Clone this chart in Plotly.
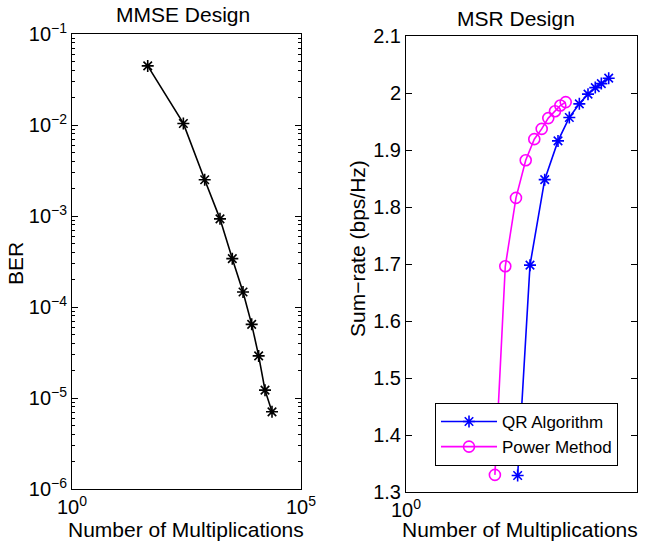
import plotly.graph_objects as go

# MMSE design: BER versus number of multiplications
mmse_mults = [45, 270, 789, 1703, 3162, 5420, 8380, 11900, 16370, 23270]
mmse_ber = [0.0446, 0.0104, 0.0025, 9.3e-4, 3.4e-4, 1.46e-4, 6.45e-5, 2.9e-5, 1.22e-5, 7.05e-6]

# MSR design: sum-rate versus number of multiplications
qr_mults = [261, 483, 1005, 1950, 3428, 5650, 8700, 12500, 16900, 24400]
qr_rate = [1.329, 1.698, 1.848, 1.916, 1.957, 1.981, 1.998, 2.0095, 2.0165, 2.026]
pm_mults = [84, 141, 240, 390, 598, 865, 1202, 1679, 2188, 2864]
pm_rate = [1.330, 1.696, 1.816, 1.882, 1.919, 1.937, 1.956, 1.968, 1.978, 1.984]

ber_tickvals = [1e-1, 1e-2, 1e-3, 1e-4, 1e-5, 1e-6]
ber_ticktext = ["10<sup>\u22121</sup>", "10<sup>\u22122</sup>", "10<sup>\u22123</sup>",
                "10<sup>\u22124</sup>", "10<sup>\u22125</sup>", "10<sup>\u22126</sup>"]
mult_tickvals = [1, 1e5]
mult_ticktext = ["10<sup>0</sup>", "10<sup>5</sup>"]

# minor log ticks (2..9 within each decade of the BER axis)
ber_minor = [m * 10.0 ** e for e in range(-6, -1) for m in range(2, 10)]

W, H = 652, 548
FONT = "Liberation Sans, Arial, Helvetica, sans-serif"


def px(x):
    return x / W


def py(y):
    return 1 - y / H


fig = go.Figure()

fig.add_trace(go.Scatter(
    x=mmse_mults, y=mmse_ber, mode="lines+markers", showlegend=False,
    line=dict(color="black", width=1.6),
    marker=dict(symbol="asterisk-open", size=10, color="black",
                line=dict(color="black", width=1.6)),
    xaxis="x", yaxis="y",
))
fig.add_trace(go.Scatter(
    x=qr_mults, y=qr_rate, mode="lines+markers", name="QR Algorithm",
    line=dict(color="#0000FF", width=1.6),
    marker=dict(symbol="asterisk-open", size=10, color="#0000FF",
                line=dict(color="#0000FF", width=1.6)),
    xaxis="x2", yaxis="y2",
))
fig.add_trace(go.Scatter(
    x=pm_mults, y=pm_rate, mode="lines+markers", name="Power Method",
    line=dict(color="#FF00FF", width=1.6),
    marker=dict(symbol="circle-open", size=11, color="#FF00FF",
                line=dict(color="#FF00FF", width=1.6)),
    xaxis="x2", yaxis="y2",
))

axis_common = dict(
    showline=True, linecolor="black", linewidth=1, mirror="ticks",
    showgrid=False, zeroline=False, automargin=False,
    tickfont=dict(family=FONT, size=20, color="black"),
)

fig.update_layout(
    template="none",
    width=W, height=H,
    margin=dict(l=0, r=0, t=0, b=0, pad=0),
    paper_bgcolor="white", plot_bgcolor="white",
    font=dict(family=FONT, color="black"),
    xaxis=dict(
        type="log", range=[0, 5], domain=[px(72), px(301)], anchor="y",
        tickvals=mult_tickvals, ticktext=mult_ticktext, ticks="",
        ticklabelstandoff=0,
        **axis_common,
    ),
    yaxis=dict(
        type="log", range=[-6, -1], domain=[py(489), py(34)], anchor="x",
        tickvals=ber_tickvals, ticktext=ber_ticktext,
        ticks="inside", ticklen=6, tickcolor="black", tickwidth=1,
        minor=dict(tickmode="array", tickvals=ber_minor, ticks="inside",
                   ticklen=3, tickcolor="black", tickwidth=1, showgrid=False),
        **axis_common,
    ),
    xaxis2=dict(
        type="log", range=[0, 5], domain=[px(406), px(637)], anchor="y2",
        tickvals=mult_tickvals, ticktext=mult_ticktext, ticks="",
        ticklabelstandoff=0,
        **axis_common,
    ),
    yaxis2=dict(
        range=[1.3, 2.1], domain=[py(492), py(36)], anchor="x2",
        dtick=0.1, tick0=1.3,
        ticks="inside", ticklen=6, tickcolor="black", tickwidth=1,
        **axis_common,
    ),
    legend=dict(
        x=px(435), y=py(403), xanchor="left", yanchor="top",
        bgcolor="white", bordercolor="black", borderwidth=1,
        font=dict(family=FONT, size=17, color="black"),
        itemwidth=56,
        tracegroupgap=0,
    ),
    annotations=[
        dict(text="MMSE Design", x=px(183), y=py(15), xref="paper", yref="paper",
             xanchor="center", yanchor="middle", showarrow=False,
             font=dict(family=FONT, size=21, color="black")),
        dict(text="MSR Design", x=px(516), y=py(19), xref="paper", yref="paper",
             xanchor="center", yanchor="middle", showarrow=False,
             font=dict(family=FONT, size=21, color="black")),
        dict(text="Number of Multiplications", x=px(186), y=py(529), xref="paper", yref="paper",
             xanchor="center", yanchor="middle", showarrow=False,
             font=dict(family=FONT, size=21, color="black")),
        dict(text="Number of Multiplications", x=px(519.5), y=py(529), xref="paper", yref="paper",
             xanchor="center", yanchor="middle", showarrow=False,
             font=dict(family=FONT, size=21, color="black")),
        dict(text="BER", x=px(15), y=py(264), xref="paper", yref="paper",
             xanchor="center", yanchor="middle", showarrow=False, textangle=-90,
             font=dict(family=FONT, size=21, color="black")),
        dict(text="Sum\u2212rate (bps/Hz)", x=px(358), y=py(249), xref="paper", yref="paper",
             xanchor="center", yanchor="middle", showarrow=False, textangle=-90,
             font=dict(family=FONT, size=21, color="black")),
    ],
)

fig.write_html("out.html")
